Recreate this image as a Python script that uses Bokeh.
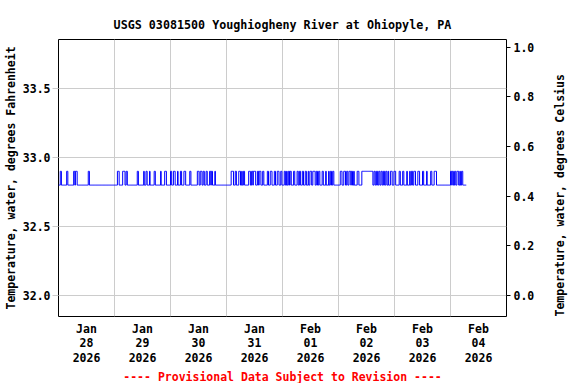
import math
import numpy as np
from bokeh.plotting import figure
from bokeh.models import (Range1d, LinearAxis, FixedTicker, Title, ColumnDataSource,
                          NumeralTickFormatter)
from bokeh.embed import file_html
from bokeh.resources import INLINE

title_text = "USGS 03081500 Youghiogheny River at Ohiopyle, PA"
footer_text = "---- Provisional Data Subject to Revision ----"
y_label_left = "Temperature, water, degrees Fahrenheit"
y_label_right = "Temperature, water, degrees Celsius"

# x in hours since 2026-01-28 00:00
x_start_h = 0.0
x_end_h = 192.0
day_label_hours = [12, 36, 60, 84, 108, 132, 156, 180]
day_labels = ["Jan\n28\n2026", "Jan\n29\n2026", "Jan\n30\n2026", "Jan\n31\n2026",
              "Feb\n01\n2026", "Feb\n02\n2026", "Feb\n03\n2026", "Feb\n04\n2026"]
day_boundary_hours = [24, 48, 72, 96, 120, 144, 168]

y_ticks_f = [32.0, 32.5, 33.0, 33.5]
y_ticks_c = [0.0, 0.2, 0.4, 0.6, 0.8, 1.0]
y_min_f = 31.848
y_max_f = 33.855

# 15-minute record
record_start_h = 0.0
record_end_h = 174.75
step_h = 0.25
base_temp_f = 32.8
warm_temp_f = 32.9
# periods (start hour, end hour) when the reading was 32.9 F
warm_intervals = [
    (0.75, 1.25), (3.5, 4.0), (6.5, 7.0), (7.25, 8.0), (12.75, 13.25),
    (25.25, 26.0), (27.5, 28.5), (29.0, 29.5), (33.75, 34.25), (36.5, 36.75),
    (37.5, 38.0), (39.0, 39.25), (41.0, 41.5), (43.75, 44.0), (45.5, 46.25),
    (48.0, 48.5), (49.25, 50.0), (51.0, 51.25), (52.25, 52.75), (53.75, 54.5),
    (56.25, 56.75), (59.5, 60.25), (60.75, 61.5), (62.0, 62.5), (63.25, 63.75),
    (64.75, 65.25), (65.5, 66.0), (67.0, 67.25),
    (74.0, 75.0), (75.75, 76.25), (77.25, 78.0), (78.5, 78.75), (79.25, 79.75),
    (81.5, 82.25), (82.75, 83.25), (83.5, 84.5), (85.25, 85.75), (86.0, 86.75),
    (87.5, 88.0), (89.5, 90.0), (90.75, 91.5), (92.5, 93.0), (93.75, 94.5),
    (95.25, 95.75), (96.75, 97.25), (97.75, 98.0), (98.5, 99.0), (99.25, 99.75),
    (100.75, 101.25), (102.25, 102.75), (103.25, 103.75), (104.5, 105.0),
    (105.75, 106.25), (107.0, 107.25), (107.75, 108.5), (109.0, 110.0),
    (110.5, 111.0), (111.5, 112.0), (113.0, 113.5), (114.5, 114.75),
    (115.75, 116.0), (116.5, 117.0), (117.5, 118.0),
    (120.75, 121.5), (122.25, 123.0), (123.5, 124.0), (124.5, 125.25),
    (125.5, 126.0), (126.5, 126.75), (128.0, 128.75), (130.0, 134.75),
    (135.25, 135.75), (136.25, 136.75), (137.25, 137.75), (138.25, 138.75),
    (139.25, 139.75), (140.25, 140.75), (141.25, 141.5), (142.25, 143.0),
    (143.75, 144.5), (146.0, 146.5), (147.5, 148.0), (149.25, 149.5),
    (150.5, 150.75), (151.25, 151.75), (152.25, 153.0), (154.0, 154.75),
    (156.0, 156.5), (157.75, 158.0), (159.5, 160.0), (161.0, 162.0),
    (168.0, 168.5), (168.75, 169.25), (169.75, 170.25), (170.75, 171.5),
    (172.0, 172.25), (172.75, 173.25),
]

times = np.arange(record_start_h, record_end_h + step_h / 2, step_h)
temps = np.full(times.shape, base_temp_f)
for s, e in warm_intervals:
    temps[(times >= s - 1e-9) & (times < e - 1e-9)] = warm_temp_f
src = ColumnDataSource(dict(t=times, f=temps))

FONT = "DejaVu Sans Mono"
FS = "11.5px"

p = figure(frame_width=448, frame_height=277, output_backend="svg", toolbar_location=None,
           x_range=Range1d(x_start_h, x_end_h), y_range=Range1d(y_min_f, y_max_f),
           min_border_left=58, min_border_right=68, min_border_top=39, min_border_bottom=60)
p.extra_y_ranges = {"c": Range1d((y_min_f - 32) * 5 / 9, (y_max_f - 32) * 5 / 9)}

p.title.text = title_text
p.title.align = "center"
p.title.text_font = FONT
p.title.text_font_size = "11.7px"
p.title.text_font_style = "bold"
p.title.text_color = "black"
p.title.standoff = 16

p.step("t", "f", source=src, mode="after", line_color="#0000ff", line_width=1)

p.outline_line_color = "black"
p.outline_line_width = 1
p.background_fill_color = "white"
p.border_fill_color = "white"

# grids
p.xgrid.ticker = FixedTicker(ticks=day_boundary_hours)
p.ygrid.ticker = FixedTicker(ticks=y_ticks_f)
for g in (p.xgrid, p.ygrid):
    g.grid_line_color = "#cccccc"
    g.grid_line_width = 1

# bottom axis
xa = p.xaxis[0]
xa.ticker = FixedTicker(ticks=day_label_hours)
xa.major_label_overrides = {h: lab for h, lab in zip(day_label_hours, day_labels)}
xa.axis_line_color = None
xa.major_tick_line_color = None
xa.major_tick_out = 0
xa.major_tick_in = 0
xa.minor_tick_line_color = None
xa.major_label_standoff = 5
xa.major_label_text_font = FONT
xa.major_label_text_font_size = FS
xa.major_label_text_font_style = "bold"
xa.major_label_text_color = "black"
xa.major_label_text_line_height = 1.05

# left axis
ya = p.yaxis[0]
ya.ticker = FixedTicker(ticks=y_ticks_f)
ya.formatter = NumeralTickFormatter(format="0.0")
ya.axis_line_color = None
ya.major_tick_line_color = "#cccccc"
ya.major_tick_out = 6
ya.major_tick_in = 0
ya.minor_tick_line_color = None
ya.major_label_standoff = 2
ya.axis_label = y_label_left
ya.axis_label_standoff = 2

# right axis (Celsius)
ra = LinearAxis(y_range_name="c", ticker=FixedTicker(ticks=y_ticks_c),
                formatter=NumeralTickFormatter(format="0.0"))
ra.axis_line_color = None
ra.major_tick_line_color = "black"
ra.major_tick_out = 4
ra.major_tick_in = 0
ra.minor_tick_line_color = None
ra.major_label_standoff = 3
ra.axis_label = y_label_right
ra.axis_label_standoff = 23
ra.axis_label_orientation = math.pi / 2
ra.axis_label_align = "start"
p.add_layout(ra, "right")

for a in (ya, ra):
    a.major_label_text_font = FONT
    a.major_label_text_font_size = FS
    a.major_label_text_font_style = "bold"
    a.major_label_text_color = "black"
    a.axis_label_text_font = FONT
    a.axis_label_text_font_size = FS
    a.axis_label_text_font_style = "bold"
    a.axis_label_text_color = "black"

footer = Title(text=footer_text, align="center", text_font=FONT, text_font_size=FS,
               text_font_style="bold", text_color="red", standoff=0, text_line_height=1.0)
p.add_layout(footer, "below")

open("out.html", "w").write(file_html(p, INLINE))
